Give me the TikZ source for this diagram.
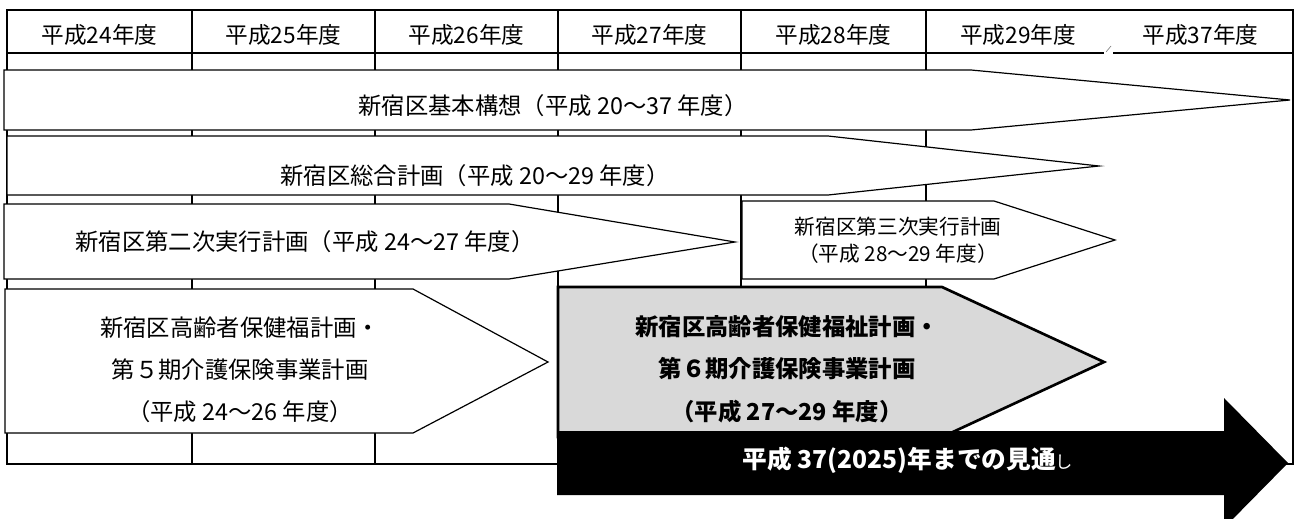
\documentclass[tikz,border=0pt]{standalone}
\usepackage{fontspec}
\setmainfont{Noto Sans CJK JP}
\begin{document}
\begin{tikzpicture}[x=0.75pt, y=-0.75pt, line join=miter,
    tbl/.style={line width=1.1pt},
    plan/.style={draw, fill=white, line width=0.9pt},
    lbl/.style={font=\fontsize{17.5}{31.5}\selectfont, align=center, inner sep=0pt}]
\useasboundingbox (0,0) rectangle (1295,518);
\clip (0,0) rectangle (1295,518);
% table of years
\draw[tbl] (7,10) rectangle (1293,464);
\draw[tbl] (7,53) -- (1104,53) (1113,53) -- (1293,53);
\draw[line width=0.5pt, gray] (1106,52) -- (1111,46);
\foreach \cx in {192,375,558,741,926}
    \draw[tbl] (\cx,10) -- (\cx,464);
\foreach \yr/\cx [count=\i] in {24/99.5,25/283.5,26/466.5,27/649.5,28/833.5,29/1018,37/1200.5}
    \node[font=\fontsize{17}{18}\selectfont] (nendo\i) at (\cx,35) {平成\yr 年度};
% plans
\draw[plan] (4,70) -- (971,70) -- (1290,100) -- (971,130) -- (4,130) -- cycle;
\node[lbl] (kihon) at (553,106) {新宿区基本構想（平成 20〜37 年度）};
\draw[plan] (7,136) -- (828,136) -- (1099,166) -- (828,195) -- (7,195) -- cycle;
\node[lbl] (sogo) at (475,176) {新宿区総合計画（平成 20〜29 年度）};
\draw[plan] (4,204) -- (509,204) -- (735,242) -- (509,279) -- (4,279) -- cycle;
\node[lbl] (jikko2) at (305,242) {新宿区第二次実行計画（平成 24〜27 年度）};
\draw[plan] (742,201) -- (994,201) -- (1115,240) -- (994,279) -- (742,279) -- cycle;
\node[lbl, font=\fontsize{15.5}{20}\selectfont] (jikko3) at (898,240)
    {新宿区第三次実行計画\\（平成 28〜29 年度）};
\draw[plan] (5,289) -- (413,289) -- (548,362) -- (413,433) -- (5,433) -- cycle;
\node[lbl] (hoken5) at (240,370)
    {新宿区高齢者保健福計画・\\第５期介護保険事業計画\\（平成 24〜26 年度）};
% current plan
\draw[line width=2pt, fill=black!15] (558,287) -- (942,287) -- (1104,362) -- (942,437) -- (558,437) -- cycle;
\node[lbl, font=\fontsize{17.5}{32}\selectfont\bfseries] (hoken6) at (787,369)
    {新宿区高齢者保健福祉計画・\\第６期介護保険事業計画\\（平成 27〜29 年度）};
% outlook to 2025
\fill (557,431) -- (1224,431) -- (1224,398) -- (1288,463) -- (1224,528) -- (1224,495) -- (557,495) -- cycle;
\node[font=\fontsize{18.5}{20}\selectfont\bfseries, text=white] (mitoshi) at (908,460)
    {平成 37(2025)年までの見通{\mdseries\fontsize{13}{14}\selectfont し}};
\end{tikzpicture}
\end{document}
